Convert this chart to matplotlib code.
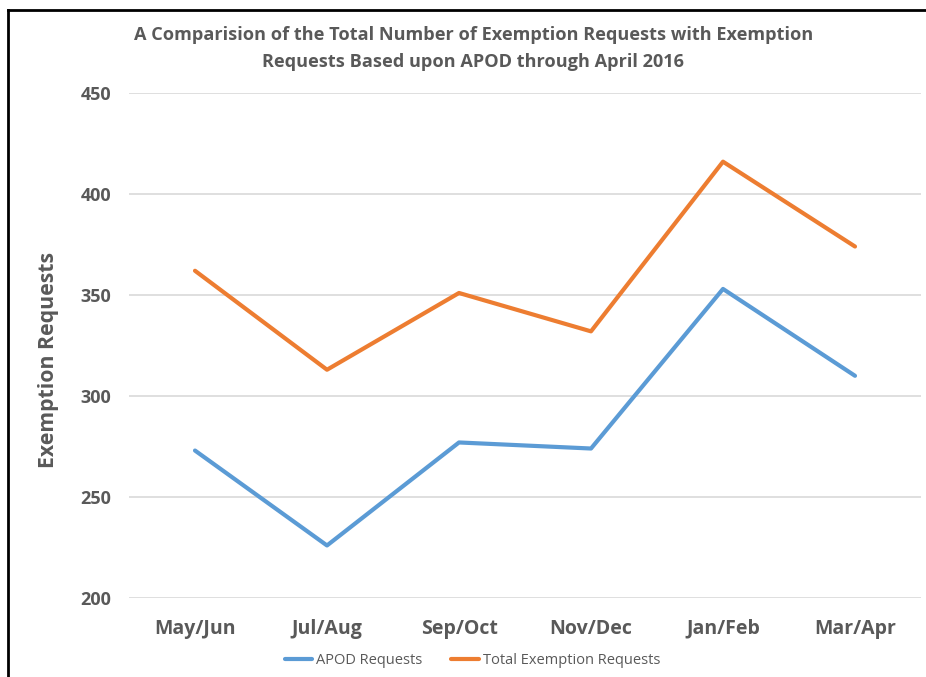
import matplotlib
matplotlib.use("Agg")
import matplotlib.pyplot as plt
from matplotlib.lines import Line2D

plt.rcParams['font.family'] = ['Open Sans', 'DejaVu Sans']

periods = ['May/Jun', 'Jul/Aug', 'Sep/Oct', 'Nov/Dec', 'Jan/Feb', 'Mar/Apr']
apod = [273, 226, 277, 274, 353, 310]
total = [362, 313, 351, 332, 416, 374]
yticks = [200, 250, 300, 350, 400, 450]

grey = '#595959'

fig = plt.figure(figsize=(9.26, 6.77), dpi=100)
ax = fig.add_axes([129 / 926, 1 - 598 / 677, 792 / 926, 505 / 677])

x = range(len(periods))
ax.plot(x, apod, color='#5B9BD5', lw=3, solid_capstyle='round', label='APOD Requests')
ax.plot(x, total, color='#ED7D31', lw=3, solid_capstyle='round', label='Total Exemption Requests')

ax.set_xlim(-0.5, len(periods) - 0.5)
ax.set_ylim(200, 450)
ax.set_yticks(yticks)
ax.set_xticks(list(x))
ax.set_xticklabels(periods)
ax.grid(axis='y', color='#d9d9d9', lw=1.2)
ax.set_axisbelow(True)
for s in ax.spines.values():
    s.set_visible(False)
ax.tick_params(length=0)
ax.tick_params(axis='y', pad=13, labelsize=13, labelcolor=grey)
ax.tick_params(axis='x', pad=15, labelsize=14, labelcolor=grey)
for t in ax.get_xticklabels() + ax.get_yticklabels():
    t.set_fontweight('bold')

ax.set_ylabel('Exemption Requests', fontsize=15.3, fontweight='bold', color=grey)
ax.yaxis.set_label_coords(-0.088, 0.471)

fig.text(0.511, 1 - 48.5 / 677,
         'A Comparision of the Total Number of Exemption Requests with Exemption\nRequests Based upon APOD through April 2016',
         ha='center', va='center', fontsize=13.1, fontweight='bold', color=grey, linespacing=1.65)

leg = fig.legend(loc='center', bbox_to_anchor=(0.51, 1 - 661 / 677), ncol=2, frameon=False,
                 fontsize=10.5, handlelength=1.9, handletextpad=0.25, columnspacing=2.0)
for t in leg.get_texts():
    t.set_color(grey)

# frame edges of the original screenshot
fig.add_artist(Line2D([7.5 / 926, 7.5 / 926], [0, 1 - 10 / 677], transform=fig.transFigure, color='black', lw=2))
fig.add_artist(Line2D([7.5 / 926, 1], [1 - 10 / 677, 1 - 10 / 677], transform=fig.transFigure, color='black', lw=2))

fig.savefig('out.png', dpi=100)
